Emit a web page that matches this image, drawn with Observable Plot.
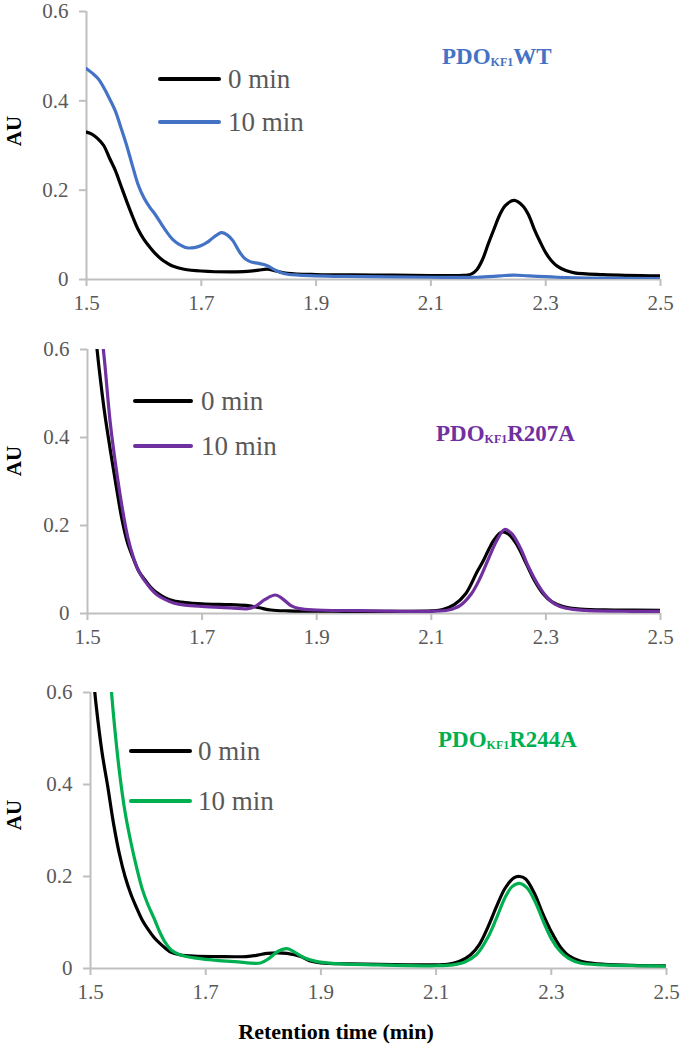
<!DOCTYPE html>
<html><head><meta charset="utf-8">
<script src="https://cdn.jsdelivr.net/npm/d3@7"></script>
<script src="https://cdn.jsdelivr.net/npm/@observablehq/plot@0.6"></script>
<style>
body{margin:0;background:#fff;}
#root{position:relative;width:680px;height:1053px;font-family:"Liberation Serif","Times New Roman",Times,serif;overflow:hidden;}
#root svg text{font-family:"Liberation Serif","Times New Roman",Times,serif !important;}
.panel{position:absolute;left:0;}
.lab{position:absolute;white-space:nowrap;line-height:1;font-family:"Liberation Serif","Times New Roman",Times,serif;}
.au{font-weight:bold;font-size:21px;color:#000;transform:translate(-50%,-50%) rotate(-90deg);}
.title{font-weight:bold;font-size:23px;transform:translateY(-50%);}
.title sub{font-size:12px;vertical-align:baseline;position:relative;top:2px;}
.sw{position:absolute;height:4px;border-radius:2px;transform:translateY(-50%);}
.legt{font-size:27px;color:#595959;transform:translateY(-50%);}
.xtitle{font-weight:bold;font-size:22px;color:#000;transform:translate(-50%,-50%);}
</style></head><body><div id="root"></div>
<script>
const xTicks = [1.5, 1.7, 1.9, 2.1, 2.3, 2.5];
const yTicks = [0, 0.2, 0.4, 0.6];
const seriesNames = ["0 min", "10 min"];
const enzymeNames = ["WT", "R207A", "R244A"];
const seriesColors = [["#000000", "#4472C4"], ["#000000", "#7030A0"], ["#000000", "#00B050"]];

// Panel 1: PDO KF1 WT
const wt0 = [[1.50,.330],[1.51,.325],[1.52,.315],[1.53,.300],[1.54,.272],[1.55,.245],[1.56,.210],[1.57,.175],[1.58,.142],[1.59,.112],[1.60,.090],[1.61,.073],[1.62,.058],[1.63,.046],[1.64,.037],[1.65,.030],[1.67,.023],[1.70,.019],[1.75,.017],[1.78,.018],[1.80,.021],[1.815,.023],[1.83,.019],[1.85,.014],[1.90,.011],[2.00,.010],[2.10,.009],[2.15,.009],[2.17,.012],[2.18,.022],[2.19,.045],[2.20,.080],[2.21,.113],[2.22,.145],[2.23,.166],[2.245,.177],[2.26,.165],[2.27,.145],[2.28,.113],[2.29,.085],[2.30,.060],[2.31,.042],[2.32,.030],[2.335,.020],[2.35,.015],[2.40,.011],[2.50,.008]];
const wt10 = [[1.50,.472],[1.51,.462],[1.52,.450],[1.53,.430],[1.54,.405],[1.55,.378],[1.56,.340],[1.57,.300],[1.58,.255],[1.59,.212],[1.60,.183],[1.61,.162],[1.62,.145],[1.63,.125],[1.64,.106],[1.65,.090],[1.66,.080],[1.675,.071],[1.69,.072],[1.70,.076],[1.71,.083],[1.72,.093],[1.735,.105],[1.745,.100],[1.755,.087],[1.765,.065],[1.775,.048],[1.785,.040],[1.80,.036],[1.815,.031],[1.83,.020],[1.845,.013],[1.87,.010],[1.95,.007],[2.10,.005],[2.18,.005],[2.22,.008],[2.245,.010],[2.27,.008],[2.32,.005],[2.40,.003],[2.50,.002]];

// Panel 2: PDO KF1 R207A
const r207_0 = [[1.50,.820],[1.51,.680],[1.52,.560],[1.53,.455],[1.54,.370],[1.55,.290],[1.56,.215],[1.57,.160],[1.58,.125],[1.59,.095],[1.60,.077],[1.61,.060],[1.62,.048],[1.635,.036],[1.65,.029],[1.67,.025],[1.70,.022],[1.75,.020],[1.78,.018],[1.80,.013],[1.82,.008],[1.85,.006],[1.95,.005],[2.05,.005],[2.10,.006],[2.12,.009],[2.14,.020],[2.16,.045],[2.18,.095],[2.19,.118],[2.20,.145],[2.21,.168],[2.223,.185],[2.235,.180],[2.25,.155],[2.265,.115],[2.28,.075],[2.295,.045],[2.31,.027],[2.33,.016],[2.36,.010],[2.42,.008],[2.50,.007]];
const r207_10 = [[1.50,1.00],[1.51,.850],[1.52,.700],[1.53,.570],[1.54,.430],[1.55,.330],[1.56,.245],[1.57,.175],[1.58,.128],[1.59,.095],[1.60,.074],[1.61,.057],[1.62,.044],[1.635,.032],[1.65,.024],[1.67,.019],[1.70,.016],[1.75,.013],[1.78,.011],[1.795,.018],[1.81,.032],[1.828,.042],[1.84,.034],[1.855,.018],[1.87,.011],[1.90,.008],[2.00,.006],[2.10,.005],[2.13,.008],[2.15,.018],[2.17,.045],[2.185,.080],[2.20,.125],[2.215,.168],[2.228,.191],[2.24,.182],[2.255,.150],[2.27,.105],[2.285,.068],[2.30,.040],[2.315,.022],[2.335,.012],[2.37,.007],[2.45,.005],[2.50,.005]];

// Panel 3: PDO KF1 R244A
const r244_0 = [[1.50,.700],[1.51,.570],[1.52,.470],[1.53,.395],[1.54,.315],[1.55,.250],[1.56,.200],[1.57,.162],[1.58,.132],[1.59,.105],[1.60,.085],[1.61,.068],[1.62,.055],[1.63,.044],[1.64,.035],[1.655,.030],[1.68,.027],[1.72,.026],[1.77,.026],[1.79,.029],[1.807,.033],[1.825,.034],[1.841,.033],[1.865,.026],[1.88,.017],[1.90,.012],[1.95,.010],[2.05,.008],[2.10,.008],[2.12,.009],[2.14,.015],[2.16,.030],[2.175,.052],[2.19,.090],[2.205,.135],[2.22,.175],[2.235,.197],[2.245,.200],[2.255,.195],[2.27,.165],[2.285,.120],[2.30,.080],[2.315,.048],[2.33,.028],[2.35,.016],[2.38,.010],[2.44,.007],[2.50,.006]];
const r244_10 = [[1.50,1.20],[1.52,.850],[1.53,.700],[1.54,.550],[1.55,.430],[1.56,.340],[1.57,.275],[1.58,.220],[1.59,.172],[1.60,.138],[1.61,.110],[1.62,.080],[1.63,.056],[1.64,.040],[1.655,.030],[1.68,.023],[1.70,.020],[1.75,.015],[1.795,.012],[1.81,.022],[1.825,.037],[1.841,.043],[1.855,.035],[1.87,.024],[1.89,.016],[1.92,.011],[2.00,.008],[2.10,.006],[2.13,.008],[2.15,.014],[2.17,.030],[2.19,.068],[2.205,.110],[2.22,.155],[2.232,.178],[2.245,.185],[2.258,.175],[2.272,.145],[2.287,.100],[2.30,.065],[2.315,.038],[2.33,.022],[2.35,.012],[2.39,.008],[2.45,.006],[2.50,.005]];

const panelSeries = [[wt0, wt10], [r207_0, r207_10], [r244_0, r244_10]];

// layout (pixels)
const layout = [
  {top: 0,   mt: 11, ab: 279, ml: 86, mr: 20, auY: 131, titleX: 442, titleY: 56,  legX0: 158, legX1: 221, legTX: 228, legY: [79, 122]},
  {top: 325, mt: 24, ab: 613, ml: 87, mr: 20, auY: 461, titleX: 436, titleY: 433, legX0: 133, legX1: 193, legTX: 201, legY: [401, 446]},
  {top: 660, mt: 32, ab: 968, ml: 90, mr: 14, auY: 815, titleX: 438, titleY: 739, legX0: 129, legX1: 192, legTX: 198, legY: [751, 801]}
];
const mb = 40;
const root = document.getElementById("root");
const fmt = d => d === 0 ? "0" : d3.format(".1f")(d);

layout.forEach((L, i) => {
  const data = [];
  panelSeries[i].forEach((s, k) => s.forEach(([x, y]) => data.push({x, y, s: seriesNames[k]})));
  const height = L.ab - L.top + mb;
  const chart = Plot.plot({
    width: 680, height,
    marginTop: L.mt, marginBottom: mb, marginLeft: L.ml, marginRight: L.mr,
    style: {fontFamily: '"Liberation Serif", "Times New Roman", serif', background: "white", overflow: "visible"},
    x: {domain: [1.5, 2.5]},
    y: {domain: [0, 0.6]},
    color: {domain: seriesNames, range: seriesColors[i]},
    marks: [
      Plot.ruleX([1.5], {stroke: "#BFBFBF", strokeWidth: 2}),
      Plot.ruleY([0], {stroke: "#BFBFBF", strokeWidth: 2}),
      Plot.axisY({ticks: yTicks, tickFormat: fmt, tickSize: 7, tickPadding: 11, stroke: "#BFBFBF", strokeWidth: 2, fill: "#595959", fontSize: 21, label: null}),
      Plot.axisX({ticks: xTicks, tickFormat: d3.format(".1f"), tickSize: 7, tickPadding: 9, stroke: "#BFBFBF", strokeWidth: 2, fill: "#595959", fontSize: 21, label: null}),
      Plot.line(data, {x: "x", y: "y", z: "s", stroke: "s", strokeWidth: 3.2, curve: "catmull-rom", clip: true})
    ]
  });
  chart.classList.add("panel");
  chart.style.top = L.top + "px";
  root.appendChild(chart);

  const au = document.createElement("div");
  au.className = "lab au"; au.textContent = "AU";
  au.style.left = "14px"; au.style.top = L.auY + "px";
  root.appendChild(au);

  const t = document.createElement("div");
  t.className = "lab title";
  t.style.left = L.titleX + "px"; t.style.top = L.titleY + "px";
  t.style.color = seriesColors[i][1];
  t.innerHTML = "PDO<sub>KF1</sub>" + enzymeNames[i];
  root.appendChild(t);

  seriesNames.forEach((name, k) => {
    const sw = document.createElement("div");
    sw.className = "sw";
    sw.style.left = L.legX0 + "px"; sw.style.width = (L.legX1 - L.legX0) + "px";
    sw.style.top = L.legY[k] + "px"; sw.style.background = seriesColors[i][k];
    root.appendChild(sw);
    const tx = document.createElement("div");
    tx.className = "lab legt"; tx.textContent = name;
    tx.style.left = L.legTX + "px"; tx.style.top = L.legY[k] + "px";
    root.appendChild(tx);
  });
});

const xt = document.createElement("div");
xt.className = "lab xtitle"; xt.textContent = "Retention time (min)";
xt.style.left = "336px"; xt.style.top = "1032px";
root.appendChild(xt);
</script>
</body></html>
